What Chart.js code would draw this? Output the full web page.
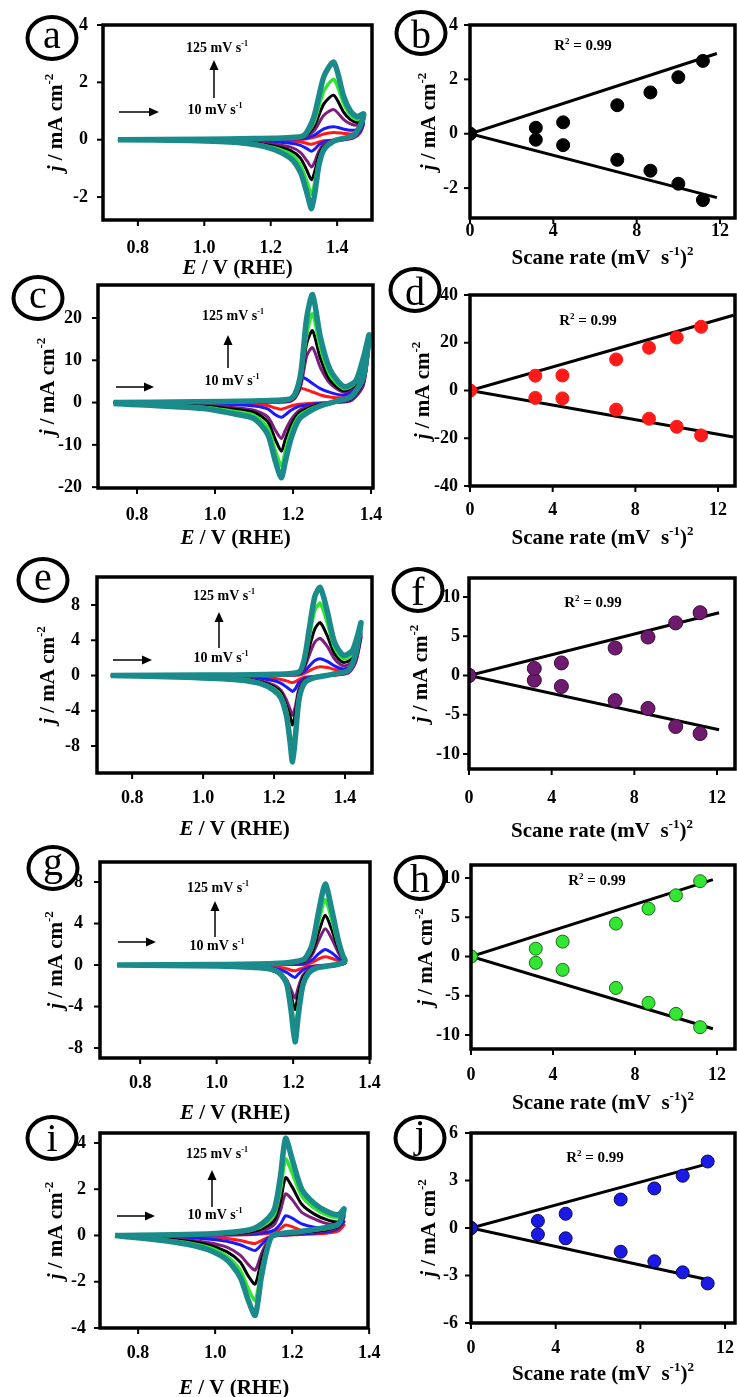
<!DOCTYPE html>
<html>
<head>
<meta charset="utf-8">
<script src="https://cdn.jsdelivr.net/npm/chart.js@4.4.1/dist/chart.umd.min.js"></script>
<style>
  body { margin: 0; width: 737px; height: 1397px; background: #fff; position: relative; overflow: hidden; }
  canvas { position: absolute; }
</style>
</head>
<body>
<script>
/* ---- data ---- */
const scanRates = [10, 20, 50, 75, 100, 125]; // mV s-1
const sqrtRate = [0, 3.16, 4.47, 7.07, 8.66, 10, 11.18];

const cvXTicks = [0.8, 1.0, 1.2, 1.4];
const scXTicks = [0, 4, 8, 12];
const aYTicks = [-2, 0, 2, 4];
const bYTicks = [-2, 0, 2, 4];
const cYTicks = [-20, -10, 0, 10, 20];
const dYTicks = [-40, -20, 0, 20, 40];
const eYTicks = [-8, -4, 0, 4, 8];
const fYTicks = [-10, -5, 0, 5, 10];
const gYTicks = [-8, -4, 0, 4, 8];
const hYTicks = [-10, -5, 0, 5, 10];
const iYTicks = [-4, -2, 0, 2, 4];
const jYTicks = [-6, -3, 0, 3, 6];

/* (a) forward sweep then reverse sweep */
const aE   = [0.74, 1.00, 1.15, 1.25, 1.30, 1.33, 1.36, 1.39, 1.42, 1.44, 1.46, 1.47, 1.48, 1.47, 1.45, 1.42, 1.39, 1.36, 1.345, 1.335, 1.323, 1.31, 1.29, 1.26, 1.20, 1.10, 0.95, 0.74];
const a125 = [0, 0.02, 0.04, 0.07, 0.15, 0.8, 2.2, 2.7, 1.5, 1.0, 0.8, 0.85, 0.9, 0.5, 0.15, 0.05, -0.05, -0.35, -0.9, -1.7, -2.4, -1.9, -1.15, -0.65, -0.3, -0.1, -0.03, 0];
const a100 = [0, 0.02, 0.03, 0.06, 0.12, 0.6, 1.7, 2.1, 1.25, 0.85, 0.7, 0.75, 0.8, 0.45, 0.13, 0.04, -0.04, -0.3, -0.75, -1.35, -1.9, -1.5, -0.9, -0.5, -0.25, -0.08, -0.02, 0];
const a75  = [0, 0.01, 0.03, 0.05, 0.1, 0.45, 1.25, 1.55, 0.95, 0.7, 0.6, 0.65, 0.75, 0.4, 0.12, 0.03, -0.03, -0.24, -0.55, -1.0, -1.4, -1.1, -0.65, -0.38, -0.2, -0.07, -0.02, 0];
const a50  = [0, 0.01, 0.02, 0.04, 0.08, 0.3, 0.85, 1.05, 0.7, 0.55, 0.5, 0.55, 0.7, 0.35, 0.1, 0.02, -0.02, -0.17, -0.4, -0.7, -0.95, -0.75, -0.45, -0.26, -0.14, -0.05, -0.01, 0];
const a20  = [0, 0, 0.01, 0.02, 0.04, 0.15, 0.38, 0.45, 0.37, 0.33, 0.35, 0.45, 0.6, 0.3, 0.08, 0, -0.02, -0.08, -0.18, -0.3, -0.4, -0.32, -0.2, -0.12, -0.07, -0.03, 0, 0];
const a10  = [0, 0, 0, 0.01, 0.02, 0.08, 0.2, 0.25, 0.22, 0.2, 0.25, 0.4, 0.55, 0.25, 0.06, 0, -0.01, -0.04, -0.08, -0.12, -0.16, -0.13, -0.08, -0.05, -0.03, -0.01, 0, 0];

/* (c) */
const cE   = [0.74, 0.95, 1.10, 1.19, 1.205, 1.22, 1.235, 1.25, 1.27, 1.295, 1.33, 1.36, 1.38, 1.395, 1.38, 1.35, 1.31, 1.27, 1.24, 1.215, 1.195, 1.18, 1.17, 1.155, 1.135, 1.10, 1.05, 0.97, 0.74];
const c125 = [0, 0.2, 0.4, 0.8, 2, 7, 20, 25.5, 15.5, 7.8, 3.8, 5, 10.5, 16, 6, 1.5, 0.3, -0.8, -2.2, -4, -8.5, -14, -17.8, -14, -7.5, -3.8, -2.7, -1.4, -0.2];
const c100 = [0, 0.15, 0.3, 0.6, 1.6, 6, 16, 21, 13, 6.5, 3.3, 4.6, 10, 15.5, 5.5, 1.2, 0.2, -0.6, -1.7, -3.2, -6.8, -11.5, -15, -11.5, -6, -3, -2.1, -1.1, -0.2];
const c75  = [0, 0.1, 0.2, 0.5, 1.3, 5, 14, 17, 10.5, 5.3, 2.8, 4.3, 9.7, 15, 5, 1.0, 0.15, -0.4, -1.3, -2.5, -5.3, -8.8, -11.5, -8.8, -4.5, -2.3, -1.6, -0.8, -0.1];
const c50  = [0, 0.08, 0.15, 0.4, 1.1, 4, 11, 13, 8.3, 4.5, 2.5, 4, 9.3, 14.7, 4.5, 0.8, 0.1, -0.3, -1.0, -1.9, -4.0, -6.6, -8.5, -6.6, -3.4, -1.8, -1.2, -0.6, -0.1];
const c20  = [0, 0.05, 0.1, 0.3, 1.5, 6.0, 5.5, 4.5, 3.3, 2.4, 1.8, 3.5, 9, 14.5, 4.2, 0.6, 0.05, -0.15, -0.5, -0.9, -1.8, -2.9, -3.5, -2.9, -1.5, -0.8, -0.5, -0.3, 0];
const c10  = [0, 0.03, 0.05, 0.2, 1.0, 3.3, 3.0, 2.5, 1.8, 1.3, 1.2, 3.0, 8.7, 14.3, 4, 0.5, 0, -0.1, -0.2, -0.4, -0.8, -1.3, -1.6, -1.3, -0.7, -0.4, -0.25, -0.1, 0];

/* (e) */
const eE   = [0.74, 1.0, 1.2, 1.27, 1.285, 1.30, 1.315, 1.33, 1.35, 1.37, 1.395, 1.42, 1.435, 1.445, 1.43, 1.41, 1.36, 1.31, 1.285, 1.27, 1.26, 1.252, 1.245, 1.235, 1.22, 1.20, 1.16, 1.10, 0.95, 0.74];
const e125 = [0, 0.05, 0.15, 0.4, 1.8, 5.5, 9, 10, 7.3, 3.8, 2.3, 2.8, 4.5, 6, 2.5, 0.6, 0.1, -0.3, -0.9, -2.8, -7, -9.8, -7.5, -4.6, -2.6, -1.7, -0.9, -0.5, -0.2, 0];
const e100 = [0, 0.04, 0.12, 0.3, 1.5, 4.5, 7.4, 8.2, 6, 3.2, 1.9, 2.4, 3.8, 5.2, 2.2, 0.5, 0.08, -0.3, -0.8, -2.4, -6.0, -8.3, -6.5, -4.0, -2.3, -1.5, -0.8, -0.4, -0.15, 0];
const e75  = [0, 0.03, 0.1, 0.25, 1.1, 3.3, 5.3, 6.0, 4.5, 2.5, 1.5, 1.9, 3.3, 4.8, 2.0, 0.45, 0.06, -0.25, -0.6, -1.8, -4.3, -5.6, -4.6, -3.5, -2.0, -1.3, -0.7, -0.35, -0.1, 0];
const e50  = [0, 0.02, 0.08, 0.2, 0.8, 2.4, 3.8, 4.2, 3.3, 1.9, 1.1, 1.5, 3.0, 4.6, 1.8, 0.4, 0.05, -0.2, -0.5, -1.5, -3.5, -4.5, -3.8, -2.8, -1.7, -1.1, -0.6, -0.3, -0.1, 0];
const e20  = [0, 0.01, 0.05, 0.12, 0.45, 1.1, 1.7, 1.9, 1.6, 1.1, 0.75, 1.1, 2.7, 4.4, 1.6, 0.35, 0.03, -0.15, -0.35, -0.8, -1.5, -1.8, -1.6, -1.3, -0.9, -0.6, -0.35, -0.2, -0.05, 0];
const e10  = [0, 0, 0.02, 0.06, 0.25, 0.55, 0.85, 1.0, 0.9, 0.7, 0.5, 0.9, 2.5, 4.3, 1.5, 0.3, 0.02, -0.1, -0.2, -0.45, -0.7, -0.8, -0.75, -0.6, -0.45, -0.3, -0.18, -0.1, -0.02, 0];

/* (g) */
const gE   = [0.74, 1.0, 1.15, 1.2, 1.23, 1.25, 1.267, 1.284, 1.30, 1.318, 1.33, 1.336, 1.32, 1.29, 1.26, 1.24, 1.225, 1.213, 1.205, 1.195, 1.183, 1.165, 1.14, 1.10, 1.0, 0.74];
const g125 = [0, 0.05, 0.15, 0.3, 0.6, 2.0, 5.2, 7.8, 5.5, 2.4, 0.9, 0.4, 0.1, -0.1, -0.3, -0.8, -2.0, -5, -7.4, -4.5, -1.8, -0.8, -0.4, -0.25, -0.1, 0];
const g100 = [0, 0.04, 0.12, 0.25, 0.5, 1.7, 4.2, 6.3, 4.5, 2.0, 0.75, 0.35, 0.08, -0.08, -0.3, -0.7, -1.7, -4.2, -6.0, -3.8, -1.6, -0.8, -0.4, -0.2, -0.08, 0];
const g75  = [0, 0.03, 0.1, 0.2, 0.4, 1.3, 3.2, 4.8, 3.5, 1.6, 0.6, 0.3, 0.06, -0.06, -0.25, -0.6, -1.3, -2.9, -4.3, -3.0, -1.6, -0.9, -0.45, -0.2, -0.06, 0];
const g50  = [0, 0.02, 0.07, 0.15, 0.3, 1.0, 2.4, 3.5, 2.6, 1.2, 0.5, 0.25, 0.05, -0.05, -0.2, -0.45, -1.0, -2.2, -3.2, -2.4, -1.4, -0.8, -0.4, -0.15, -0.05, 0];
const g20  = [0, 0.01, 0.03, 0.07, 0.15, 0.5, 1.1, 1.5, 1.2, 0.65, 0.3, 0.2, 0.03, -0.03, -0.1, -0.25, -0.5, -0.9, -1.2, -1.0, -0.7, -0.45, -0.25, -0.1, -0.02, 0];
const g10  = [0, 0, 0.02, 0.04, 0.08, 0.25, 0.6, 0.8, 0.65, 0.4, 0.2, 0.15, 0.02, -0.02, -0.06, -0.15, -0.3, -0.45, -0.55, -0.5, -0.35, -0.25, -0.15, -0.06, -0.01, 0];

/* (i) */
const iE   = [0.74, 0.95, 1.05, 1.10, 1.135, 1.155, 1.17, 1.183, 1.20, 1.225, 1.26, 1.295, 1.32, 1.335, 1.32, 1.29, 1.22, 1.15, 1.135, 1.12, 1.104, 1.086, 1.065, 1.03, 0.98, 0.90, 0.74];
const i125 = [0, 0.05, 0.15, 0.3, 0.7, 1.2, 2.6, 4.2, 3.3, 2.0, 1.35, 1.0, 0.9, 1.15, 0.5, 0.35, 0.17, 0, -0.6, -1.8, -3.45, -2.8, -1.8, -1.05, -0.6, -0.3, 0];
const i100 = [0, 0.04, 0.12, 0.25, 0.55, 0.95, 2.0, 3.3, 2.7, 1.7, 1.15, 0.85, 0.8, 1.05, 0.45, 0.3, 0.14, -0.02, -0.5, -1.5, -2.8, -2.3, -1.5, -0.9, -0.5, -0.25, 0];
const i75  = [0, 0.03, 0.09, 0.18, 0.4, 0.7, 1.5, 2.5, 2.1, 1.35, 0.9, 0.65, 0.6, 0.9, 0.4, 0.25, 0.12, -0.02, -0.4, -1.1, -2.1, -1.75, -1.15, -0.7, -0.4, -0.2, 0];
const i50  = [0, 0.02, 0.06, 0.12, 0.28, 0.5, 1.1, 1.8, 1.55, 1.0, 0.7, 0.5, 0.5, 0.8, 0.35, 0.2, 0.1, -0.03, -0.3, -0.8, -1.5, -1.25, -0.85, -0.5, -0.3, -0.15, 0];
const i20  = [0, 0.01, 0.03, 0.06, 0.14, 0.25, 0.5, 0.85, 0.75, 0.5, 0.35, 0.28, 0.32, 0.6, 0.3, 0.15, 0.06, -0.03, -0.15, -0.4, -0.65, -0.55, -0.4, -0.25, -0.15, -0.07, 0];
const i10  = [0, 0, 0.02, 0.04, 0.08, 0.15, 0.3, 0.45, 0.38, 0.2, 0.12, 0.12, 0.2, 0.45, 0.25, 0.1, 0.04, -0.03, -0.1, -0.22, -0.35, -0.3, -0.22, -0.13, -0.08, -0.04, 0];

/* peak currents vs sqrt(scan rate), with the drawn fit lines */
const bAnod = [0, 0.22, 0.42, 1.05, 1.52, 2.08, 2.68];
const bCath = [0, -0.22, -0.42, -0.96, -1.36, -1.84, -2.44];
const bFitX = [0, 11.85];
const bFitUp = [0, 2.95];
const bFitDown = [0, -2.35];

const dAnod = [0, 6.2, 6.3, 13, 17.9, 22.2, 26.7];
const dCath = [0, -3.1, -3.3, -8, -11.8, -15.2, -18.8];
const dFitX = [0, 12.75];
const dFitUp = [0, 31.5];
const dFitDown = [0, -19.5];

const fAnod = [0, 0.9, 1.6, 3.5, 4.9, 6.7, 8.0];
const fCath = [0, -0.6, -1.4, -3.2, -4.2, -6.5, -7.4];
const fFitX = [0, 12.1];
const fFitUp = [0, 8.0];
const fFitDown = [0, -6.9];

const hAnod = [0, 1.0, 1.9, 4.2, 6.1, 7.8, 9.6];
const hCath = [0, -0.8, -1.7, -4.0, -5.9, -7.3, -9.0];
const hFitX = [0, 11.8];
const hFitUp = [0, 9.8];
const hFitDown = [0, -9.2];

const jAnod = [0, 0.45, 0.9, 1.8, 2.5, 3.3, 4.2];
const jCath = [0, -0.4, -0.65, -1.5, -2.1, -2.8, -3.5];
const jFitX = [0, 11.3];
const jFitUp = [0, 4.1];
const jFitDown = [0, -3.3];

/* ---- styles ---- */
const FONT = '"Liberation Serif", "Times New Roman", serif';
const cvColors = ['#ff1a1a', '#1a1aff', '#7d1d7d', '#000000', '#2ee62e', '#1a8a8a'];
const cvWidths = [3, 3, 3, 3, 3.5, 5.5];

/* box = chart area in page pixels: left, top, right, bottom */
const panels = [
  { letter: 'a', kind: 'cv', box: [103, 25, 372, 220], x: [0.695, 1.505], y: [-2.8, 4],
    E: aE, I: [a10, a20, a50, a75, a100, a125], yTicks: aYTicks,
    circle: [-51, 13], yTitle: 48, xTitle: 47, xLab: 28, yLab: 15,
    ann: { top: [114, 22], bot: [112, 84], v: [111, 73, 35], h: [16, 56, 87] } },
  { letter: 'b', kind: 'sc', box: [470, 25, 735, 218], x: [0, 12.72], y: [-3.1, 4],
    pts: [bAnod, bCath], fit: [bFitX, bFitUp, bFitDown], yTicks: bYTicks,
    fill: '#000000', edge: '#000000', r: 6.5,
    circle: [-49, 8], yTitle: 42, xTitle: 39, xLab: 13, yLab: 12, r2: [113, 20] },
  { letter: 'c', kind: 'cv', box: [98, 285, 373, 488], x: [0.7, 1.405], y: [-20.2, 27.8],
    E: cE, I: [c10, c20, c50, c75, c100, c125], yTicks: cYTicks,
    circle: [-60, 13], yTitle: 51, xTitle: 49, xLab: 27, yLab: 16,
    ann: { top: [135, 30], bot: [134, 95], v: [130, 83, 50], h: [18, 56, 102] } },
  { letter: 'd', kind: 'sc', box: [470, 295, 735, 486], x: [0, 12.82], y: [-40, 40],
    pts: [dAnod, dCath], fit: [dFitX, dFitUp, dFitDown], yTicks: dYTicks,
    fill: '#ff1a1a', edge: '#ff1a1a', r: 6.5,
    circle: [-55, -5], yTitle: 48, xTitle: 51, xLab: 24, yLab: 12, r2: [118, 25] },
  { letter: 'e', kind: 'cv', box: [97, 577, 372, 773], x: [0.701, 1.476], y: [-11.06, 11.18],
    E: eE, I: [e10, e20, e50, e75, e100, e125], yTicks: eYTicks,
    circle: [-54, 3], yTitle: 50, xTitle: 55, xLab: 25, yLab: 17,
    ann: { top: [127, 18], bot: [124, 80], v: [122, 71, 35], h: [16, 55, 83] } },
  { letter: 'f', kind: 'sc', box: [469, 578, 735, 769], x: [0, 12.87], y: [-11.91, 12.42],
    pts: [fAnod, fCath], fit: [fFitX, fFitUp, fFitDown], yTicks: fYTicks,
    fill: '#6e1a6e', edge: '#3a0a3a', r: 7,
    circle: [-51, 12], yTitle: 49, xTitle: 61, xLab: 29, yLab: 9, r2: [124, 24] },
  { letter: 'g', kind: 'cv', box: [100, 862, 370, 1058], x: [0.695, 1.401], y: [-8.96, 9.93],
    E: gE, I: [g10, g20, g50, g75, g100, g125], yTicks: gYTicks,
    circle: [-47, 6], yTitle: 45, xTitle: 54, xLab: 25, yLab: 17,
    ann: { top: [118, 25], bot: [117, 83], v: [115, 75, 39], h: [18, 56, 80] } },
  { letter: 'h', kind: 'sc', box: [471, 865, 735, 1049], x: [0, 12.88], y: [-11.78, 11.66],
    pts: [hAnod, hCath], fit: [hFitX, hFitUp, hFitDown], yTicks: hYTicks,
    fill: '#33e633', edge: '#1a6b1a', r: 6.5,
    circle: [-51, 13], yTitle: 46, xTitle: 53, xLab: 26, yLab: 11, r2: [126, 15] },
  { letter: 'i', kind: 'cv', box: [100, 1133, 368, 1328], x: [0.701, 1.397], y: [-4, 4.43],
    E: iE, I: [i10, i20, i50, i75, i100, i125], yTicks: iYTicks,
    circle: [-48, 5], yTitle: 45, xTitle: 59, xLab: 25, yLab: 14,
    ann: { top: [117, 20], bot: [115, 81], v: [112, 74, 37], h: [17, 55, 83] } },
  { letter: 'j', kind: 'sc', box: [471, 1133, 735, 1323], x: [0, 12.47], y: [-6, 6],
    pts: [jAnod, jCath], fit: [jFitX, jFitUp, jFitDown], yTicks: jYTicks,
    fill: '#1a1ae6', edge: '#0a0a50', r: 6.5,
    circle: [-51, 5], yTitle: 43, xTitle: 50, xLab: 25, yLab: 13, r2: [124, 24] }
];

/* draws a run of [text, style] pieces centred on x; style 'i' italic, 's' superscript */
function rich(ctx, segs, x, yMid, size) {
  const parts = segs.map(([t, st = '']) => {
    const sup = st.includes('s');
    const fs = sup ? Math.round(size * 0.6) : size;
    const font = (st.includes('i') ? 'italic ' : '') + 'bold ' + fs + 'px ' + FONT;
    ctx.font = font;
    return { t, font, w: ctx.measureText(t).width, dy: sup ? -size * 0.42 : 0 };
  });
  const total = parts.reduce((s, q) => s + q.w, 0);
  let px = x - total / 2;
  ctx.textAlign = 'left';
  ctx.textBaseline = 'alphabetic';
  parts.forEach(q => {
    ctx.font = q.font;
    ctx.fillText(q.t, px, yMid + size * 0.34 + q.dy);
    px += q.w;
  });
}

function decor(p) {
  return {
    id: 'decor',
    afterDraw(chart) {
      const { ctx, chartArea: a, scales: { x, y } } = chart;
      const line = (x1, y1, x2, y2) => { ctx.beginPath(); ctx.moveTo(x1, y1); ctx.lineTo(x2, y2); ctx.stroke(); };
      ctx.save();
      ctx.strokeStyle = '#000';
      ctx.fillStyle = '#000';

      ctx.lineWidth = 3.5;
      ctx.strokeRect(a.left, a.top, a.right - a.left, a.bottom - a.top);

      /* ticks and tick labels */
      ctx.lineWidth = 2;
      ctx.font = 'bold 18px ' + FONT;
      ctx.textAlign = 'center';
      ctx.textBaseline = 'middle';
      const xTicks = p.kind === 'cv' ? cvXTicks : scXTicks;
      xTicks.forEach(v => {
        const px = x.getPixelForValue(v);
        line(px, a.bottom, px, a.bottom + 6);
        ctx.fillText(p.kind === 'cv' ? v.toFixed(1) : String(v), px, a.bottom + p.xLab);
      });
      ctx.textAlign = 'right';
      p.yTicks.forEach(v => {
        const py = y.getPixelForValue(v);
        line(a.left - 6, py, a.left, py);
        ctx.fillText(String(v), a.left - p.yLab, py);
      });

      /* axis titles */
      const cx = (a.left + a.right) / 2;
      if (p.kind === 'cv') {
        rich(ctx, [['E', 'i'], [' / V (RHE)']], cx, a.bottom + p.xTitle, 21);
      } else {
        rich(ctx, [['Scane rate (mV  s'], ['-1', 's'], [')'], ['2', 's']], cx, a.bottom + p.xTitle, 21);
      }
      ctx.save();
      ctx.translate(a.left - p.yTitle, (a.top + a.bottom) / 2);
      ctx.rotate(-Math.PI / 2);
      rich(ctx, [['j', 'i'], [' / mA cm'], ['-2', 's']], 0, 0, 21);
      ctx.restore();

      /* circled panel letter */
      const [ox, oy] = [a.left + p.circle[0], a.top + p.circle[1]];
      ctx.lineWidth = 4;
      ctx.beginPath();
      ctx.ellipse(ox, oy, 24.5, 21, 0, 0, Math.PI * 2);
      ctx.stroke();
      ctx.font = '40px ' + FONT;
      ctx.textAlign = 'center';
      ctx.textBaseline = 'alphabetic';
      const m = ctx.measureText(p.letter);
      ctx.fillText(p.letter, ox, oy + (m.actualBoundingBoxAscent - m.actualBoundingBoxDescent) / 2);

      if (p.kind === 'cv') {
        const n = p.ann;
        rich(ctx, [['125 mV s'], ['-1', 's']], a.left + n.top[0], a.top + n.top[1], 14);
        rich(ctx, [['10 mV s'], ['-1', 's']], a.left + n.bot[0], a.top + n.bot[1], 14);
        ctx.lineWidth = 1.5;
        const vx = a.left + n.v[0], vy1 = a.top + n.v[1], vy2 = a.top + n.v[2];
        line(vx, vy1, vx, vy2 + 8);
        ctx.beginPath();
        ctx.moveTo(vx, vy2); ctx.lineTo(vx - 4.5, vy2 + 10); ctx.lineTo(vx + 4.5, vy2 + 10);
        ctx.closePath(); ctx.fill();
        const hx1 = a.left + n.h[0], hx2 = a.left + n.h[1], hy = a.top + n.h[2];
        line(hx1, hy, hx2 - 8, hy);
        ctx.beginPath();
        ctx.moveTo(hx2, hy); ctx.lineTo(hx2 - 10, hy - 4.5); ctx.lineTo(hx2 - 10, hy + 4.5);
        ctx.closePath(); ctx.fill();
      } else {
        rich(ctx, [['R'], ['2', 's'], [' = 0.99']], a.left + p.r2[0], a.top + p.r2[1], 15);
      }
      ctx.restore();
    }
  };
}

const zip = (xs, ys) => xs.map((v, k) => ({ x: v, y: ys[k] }));

function buildDatasets(p) {
  if (p.kind === 'cv') {
    const sets = [];
    for (let k = scanRates.length - 1; k >= 0; k--) {
      sets.push({
        label: scanRates[k] + ' mV/s',
        data: zip(p.E, p.I[k]),
        showLine: true,
        borderColor: cvColors[k],
        borderWidth: cvWidths[k],
        pointRadius: 0,
        tension: 0.25
      });
    }
    return sets;
  }
  const [fx, fu, fd] = p.fit;
  return [
    { label: 'anodic', data: zip(sqrtRate, p.pts[0]), pointRadius: p.r,
      backgroundColor: p.fill, borderColor: p.edge, borderWidth: 1 },
    { label: 'cathodic', data: zip(sqrtRate, p.pts[1]), pointRadius: p.r,
      backgroundColor: p.fill, borderColor: p.edge, borderWidth: 1 },
    { label: 'fit up', data: zip(fx, fu), showLine: true, pointRadius: 0, borderColor: '#000', borderWidth: 3 },
    { label: 'fit down', data: zip(fx, fd), showLine: true, pointRadius: 0, borderColor: '#000', borderWidth: 3 }
  ];
}

panels.forEach(p => {
  const [L, T, R, B] = p.box;
  const cx = L < 300 ? 0 : 388;
  const cw = L < 300 ? 400 : 372;
  const cy = T - 50;
  const ch = B + 82 - cy;
  const canvas = document.createElement('canvas');
  canvas.width = cw;
  canvas.height = ch;
  canvas.style.left = cx + 'px';
  canvas.style.top = cy + 'px';
  document.body.appendChild(canvas);

  new Chart(canvas, {
    type: 'scatter',
    data: { datasets: buildDatasets(p) },
    options: {
      responsive: false,
      animation: false,
      devicePixelRatio: 1,
      layout: { padding: { left: L - cx, top: T - cy, right: cx + cw - R, bottom: cy + ch - B } },
      scales: {
        x: { type: 'linear', display: false, min: p.x[0], max: p.x[1] },
        y: { type: 'linear', display: false, min: p.y[0], max: p.y[1] }
      },
      plugins: { legend: { display: false }, tooltip: { enabled: false } }
    },
    plugins: [decor(p)]
  });
});
</script>
</body>
</html>
